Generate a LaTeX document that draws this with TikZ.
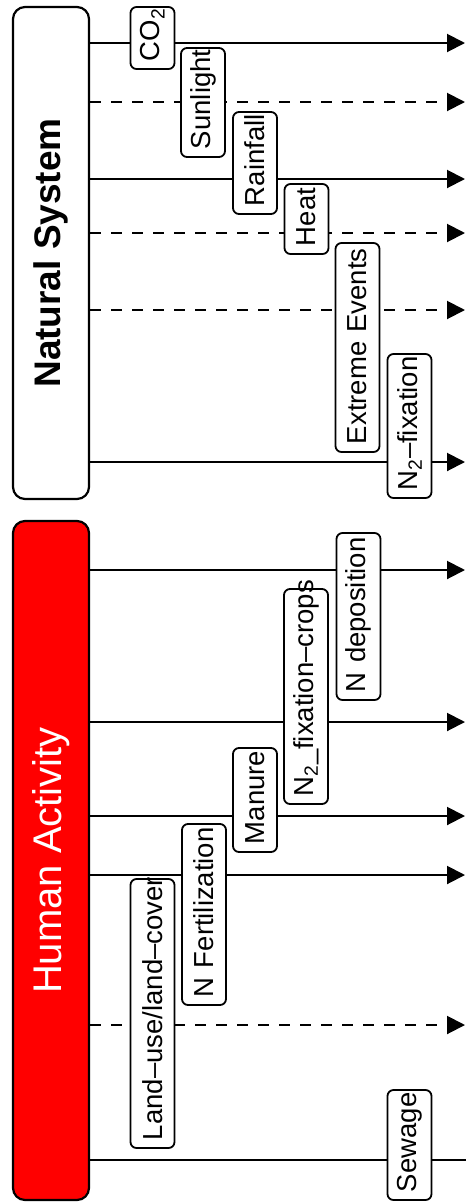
\documentclass[tikz,border=0pt]{standalone}
\usepackage{fontspec}
\setmainfont{Liberation Sans}
\usetikzlibrary{arrows.meta}
\begin{document}
\begin{tikzpicture}[x=1pt,y=1pt,
  sysbox/.style={draw=black, line width=2.2pt, rounded corners=12pt, inner sep=0pt},
  flow/.style={line width=2pt, -{Triangle[length=18pt,width=18pt]}},
  weakflow/.style={flow, dash pattern=on 11pt off 10pt},
  plainflow/.style={line width=2pt},
  tag/.style={draw=black, fill=white, line width=1.8pt, rounded corners=6pt,
    rotate=90, minimum height=44pt, inner xsep=8pt, inner ysep=0pt,
    align=left, text width=#1, font=\fontsize{27.5}{30}\selectfont},
]
\useasboundingbox (0,0) rectangle (466,-1203);

% the two source systems
\node[sysbox, fill=white, minimum width=76pt, minimum height=492pt] (nat) at (51,-253)
  {\rotatebox{90}{\bfseries\fontsize{37}{40}\selectfont Natural System}};
\node[sysbox, fill=red, minimum width=76pt, minimum height=679pt] (hum) at (51,-860.5)
  {\rotatebox{90}{\color{white}\fontsize{40}{43}\selectfont Human Activity}};

% arrow end points on the right
\coordinate (n1) at (465,-43);
\coordinate (n2) at (465,-102);
\coordinate (n3) at (465,-179);
\coordinate (n4) at (465,-233);
\coordinate (n5) at (465,-310);
\coordinate (n6) at (465,-462);
\coordinate (h1) at (465,-570);
\coordinate (h2) at (465,-722);
\coordinate (h3) at (465,-816);
\coordinate (h4) at (465,-875);
\coordinate (h5) at (465,-1025);
\coordinate (h6) at (466,-1160);

% natural drivers
\draw[flow]     (nat.east |- n1) -- (n1);
\draw[weakflow] (nat.east |- n2) -- (n2);
\draw[flow]     (nat.east |- n3) -- (n3);
\draw[weakflow] (nat.east |- n4) -- (n4);
\draw[weakflow] (nat.east |- n5) -- (n5);
\draw[flow]     (nat.east |- n6) -- (n6);

% human drivers
\draw[flow]      (hum.east |- h1) -- (h1);
\draw[flow]      (hum.east |- h2) -- (h2);
\draw[flow]      (hum.east |- h3) -- (h3);
\draw[flow]      (hum.east |- h4) -- (h4);
\draw[weakflow]  (hum.east |- h5) -- (h5);
\draw[plainflow] (hum.east |- h6) -- (h6);

% driver labels
\node[tag=46pt]  (co2)  at (152.5,-38)   {\mbox{CO\textsubscript{2}}};
\node[tag=93pt]  (sun)  at (203,-102.5)  {\mbox{Sunlight}};
\node[tag=86pt]  (rain) at (255,-163)    {\mbox{Rainfall}};
\node[tag=54pt]  (heat) at (306.5,-219)  {\mbox{Heat}};
\node[tag=193pt] (ext)  at (357.5,-347.5){\mbox{Extreme Events}};
\node[tag=128pt] (nfix) at (409.5,-426)  {\mbox{N\textsubscript{2}–fixation}};
\node[tag=151pt] (ndep) at (358.5,-616.5){\mbox{N deposition}};
\node[tag=199pt] (ncrop) at (306,-696.5) {\mbox{N\textsubscript{2}\_fixation–crops}};
\node[tag=88pt]  (man)  at (255,-800)    {\mbox{Manure}};
\node[tag=165pt] (nfer) at (204,-914.5)  {\mbox{N Fertilization}};
\node[tag=253pt] (land) at (152.5,-1013.5){\mbox{Land–use/land–cover}};
\node[tag=94pt]  (sew)  at (409.5,-1145) {\mbox{Sewage}};
\end{tikzpicture}
\end{document}
